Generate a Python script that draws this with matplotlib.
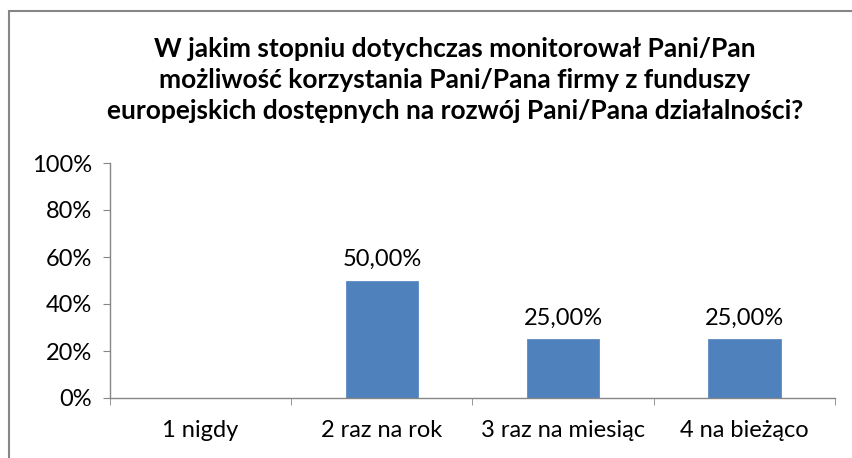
import numpy as np
import matplotlib.pyplot as plt
from matplotlib.patches import Rectangle

# data
categories = ["1 nigdy", "2 raz na rok", "3 raz na miesiąc", "4 na bieżąco"]
values = [0.0, 0.50, 0.25, 0.25]
value_labels = ["", "50,00%", "25,00%", "25,00%"]
yticks = [0.0, 0.2, 0.4, 0.6, 0.8, 1.0]
ytick_labels = ["0%", "20%", "40%", "60%", "80%", "100%"]
title = ("W jakim stopniu dotychczas monitorował Pani/Pan\n"
         "możliwość korzystania Pani/Pana firmy z funduszy\n"
         "europejskich dostępnych na rozwój Pani/Pana działalności?")

plt.rcParams['font.family'] = ['Lato', 'DejaVu Sans']

W, H = 853, 458
fig = plt.figure(figsize=(W / 100, H / 100), dpi=100)

# outer chart border (open at the right and bottom, like the cropped original)
fig.patches.append(Rectangle((8.5 / W, -0.1), 1.2, (H - 11) / H + 0.1,
                             transform=fig.transFigure, fill=False,
                             edgecolor='#868686', linewidth=1.5))

# axes placed by pixel position
left, right, top, bottom = 110, 835, 163, 398
ax = fig.add_axes([left / W, 1 - bottom / H, (right - left) / W, (bottom - top) / H])

x = np.arange(len(categories))
ax.bar(x, values, width=0.4, color='#4F81BD', edgecolor='#5B8BC6', linewidth=0.6)

fs = 17
for xi, v, lab in zip(x, values, value_labels):
    if lab:
        ax.text(xi, v + 0.045, lab, ha='center', va='bottom', fontsize=fs, color='black')

ax.set_xlim(-0.5, len(categories) - 0.5)
ax.set_ylim(0, 1)
ax.set_yticks(yticks)
ax.set_yticklabels(ytick_labels, fontsize=fs)
ax.set_xticks(x)
ax.set_xticklabels(categories, fontsize=fs)
ax.set_xticks(np.arange(len(categories) + 1) - 0.5, minor=True)
ax.tick_params(axis='x', which='major', length=0, pad=16)
ax.tick_params(axis='x', which='minor', length=5, direction='out', color='#868686')
ax.tick_params(axis='y', length=5, direction='out', color='#868686', pad=8)

for s in ['top', 'right']:
    ax.spines[s].set_visible(False)
for s in ['left', 'bottom']:
    ax.spines[s].set_color('#868686')
    ax.spines[s].set_linewidth(1.0)

fig.text(455 / W, 1 - 80 / H, title, ha='center', va='center', fontsize=19,
         fontweight='bold', linespacing=1.36)

fig.savefig("out.png", dpi=100)
